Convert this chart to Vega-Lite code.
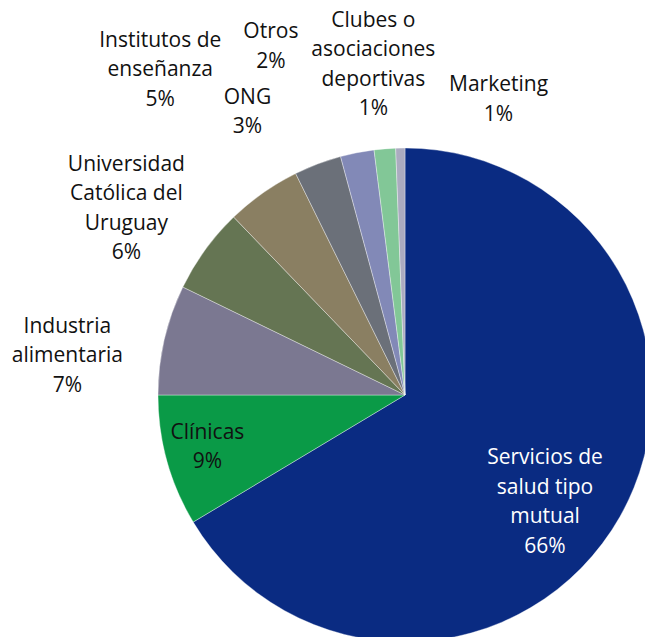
{
  "$schema": "https://vega.github.io/schema/vega-lite/v6.json",
  "width": 480,
  "height": 484,
  "autosize": {"type": "none"},
  "padding": {"left": 165, "top": 153, "right": 0, "bottom": 0},
  "background": "white",
  "view": {"stroke": null},
  "config": {"text": {"font": "Open Sans", "fontSize": 21, "lineHeight": 29.5, "lineBreak": "\n", "align": "center", "baseline": "middle", "color": "#111111"}},
  "data": {"values": [
    {"cat": "Servicios de salud tipo mutual", "orden": 1, "valor": 66.4, "label": "Servicios de\nsalud tipo\nmutual\n66%"},
    {"cat": "Clínicas", "orden": 2, "valor": 8.6, "label": "Clínicas\n9%"},
    {"cat": "Industria alimentaria", "orden": 3, "valor": 7.2, "label": "Industria\nalimentaria\n7%"},
    {"cat": "Universidad Católica del Uruguay", "orden": 4, "valor": 5.6, "label": "Universidad\nCatólica del\nUruguay\n6%"},
    {"cat": "Institutos de enseñanza", "orden": 5, "valor": 4.9, "label": "Institutos de\nenseñanza\n5%"},
    {"cat": "ONG", "orden": 6, "valor": 3.1, "label": "ONG\n3%"},
    {"cat": "Otros", "orden": 7, "valor": 2.2, "label": "Otros\n2%"},
    {"cat": "Clubes o asociaciones deportivas", "orden": 8, "valor": 1.4, "label": "Clubes o\nasociaciones\ndeportivas\n1%"},
    {"cat": "Marketing", "orden": 9, "valor": 0.6, "label": "Marketing\n1%"}
  ]},
  "encoding": {
    "theta": {"field": "valor", "type": "quantitative", "stack": true},
    "order": {"field": "orden", "type": "quantitative"}
  },
  "layer": [
    {
      "mark": {"type": "arc", "outerRadius": 247, "stroke": "#ffffff", "strokeWidth": 0.6, "strokeOpacity": 0.6},
      "encoding": {
        "color": {"field": "cat", "type": "nominal", "legend": null, "sort": null,
          "scale": {"domain": ["Servicios de salud tipo mutual", "Clínicas", "Industria alimentaria", "Universidad Católica del Uruguay", "Institutos de enseñanza", "ONG", "Otros", "Clubes o asociaciones deportivas", "Marketing"],
                    "range": ["#0A2B82", "#0A9A47", "#7B7891", "#657553", "#8A7F62", "#6B7079", "#8289B7", "#82C797", "#ABABC0"]}}
      }
    },
    {
      "mark": {"type": "text", "radius": 177, "dx": -14, "dy": -24, "color": "#ffffff"},
      "encoding": {"text": {"condition": {"test": "datum.orden === 1", "field": "label"}, "value": ""}}
    },
    {
      "mark": {"type": "text", "radius": 205, "dx": 0, "dy": -17},
      "encoding": {"text": {"condition": {"test": "datum.orden === 2", "field": "label"}, "value": ""}}
    },
    {
      "mark": {"type": "text", "radius": 290, "dx": -55, "dy": -3},
      "encoding": {"text": {"condition": {"test": "datum.orden === 3", "field": "label"}, "value": ""}}
    },
    {
      "mark": {"type": "text", "radius": 290, "dx": -44, "dy": -60},
      "encoding": {"text": {"condition": {"test": "datum.orden === 4", "field": "label"}, "value": ""}}
    },
    {
      "mark": {"type": "text", "radius": 290, "dx": -78, "dy": -117},
      "encoding": {"text": {"condition": {"test": "datum.orden === 5", "field": "label"}, "value": ""}}
    },
    {
      "mark": {"type": "text", "radius": 290, "dx": -55, "dy": -26},
      "encoding": {"text": {"condition": {"test": "datum.orden === 6", "field": "label"}, "value": ""}}
    },
    {
      "mark": {"type": "text", "radius": 290, "dx": -78, "dy": -78},
      "encoding": {"text": {"condition": {"test": "datum.orden === 7", "field": "label"}, "value": ""}}
    },
    {
      "mark": {"type": "text", "radius": 290, "dx": -8, "dy": -85},
      "encoding": {"text": {"condition": {"test": "datum.orden === 8", "field": "label"}, "value": ""}}
    },
    {
      "mark": {"type": "text", "radius": 290, "dx": 99, "dy": -20},
      "encoding": {"text": {"condition": {"test": "datum.orden === 9", "field": "label"}, "value": ""}}
    }
  ]
}
